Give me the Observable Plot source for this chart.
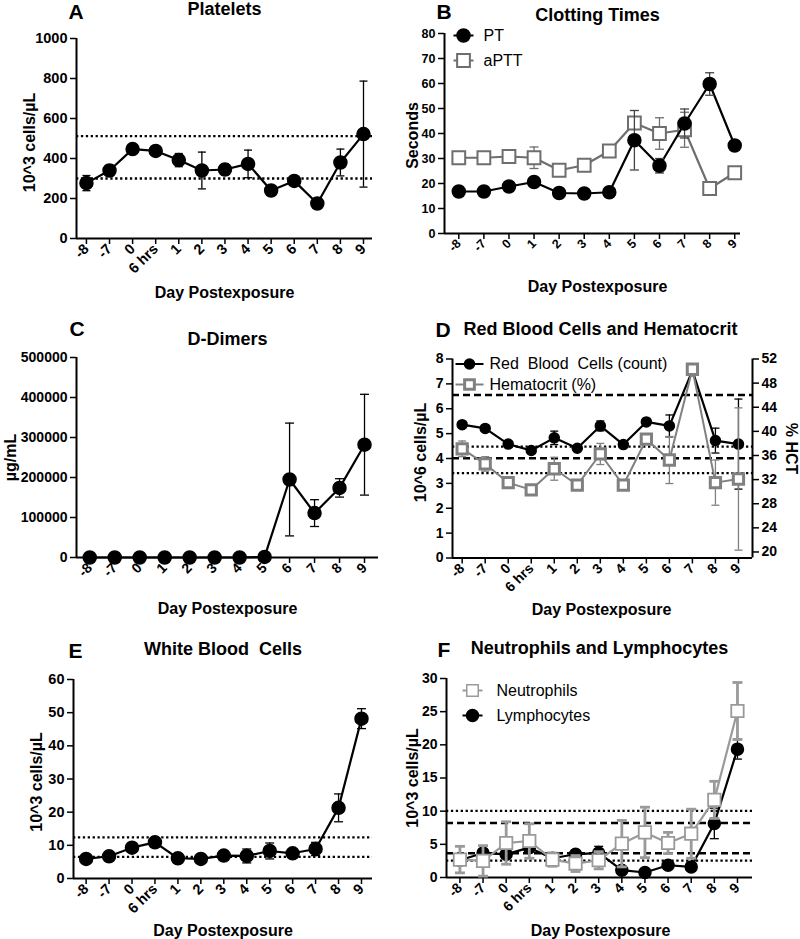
<!DOCTYPE html>
<html><head><meta charset="utf-8">
<script src="https://cdn.jsdelivr.net/npm/d3@7"></script>
<script src="https://cdn.jsdelivr.net/npm/@observablehq/plot@0.6"></script>
<style>
body{margin:0;background:#fff;}
#wrap{position:relative;width:800px;height:939px;overflow:hidden;background:#fff;}
#wrap svg{position:absolute;}
</style></head><body><div id="wrap"></div>
<script>
// ---------- data ----------
const daysHrs = ["-8","-7","0","6 hrs","1","2","3","4","5","6","7","8","9"];
const days = ["-8","-7","0","1","2","3","4","5","6","7","8","9"];

// A Platelets (10^3 cells/µL)
const platelets    = [277, 340, 447, 438, 392, 340, 345, 373, 240, 288, 175, 380, 522];
const plateletsErr = [38, 27, null, null, 33, 92, 27, 69, null, null, null, 67, 265];
const plateletsRef = [512, 300];

// B Clotting times (seconds)
const pt      = [16.8, 16.8, 18.8, 20.6, 16.2, 16.0, 16.5, 37.3, 27.1, 44.0, 59.8, 35.2];
const ptErr   = [null, null, null, null, null, null, null, 11.9, 2.9, 5.8, 4.5, null];
const aptt    = [30.3, 30.3, 30.8, 30.3, 25.3, 27.3, 33.0, 44.2, 40.0, 41.5, 18.0, 24.3];
const apttErr = [null, null, null, 4.3, null, null, null, null, 6.3, 7.0, null, null];

// C D-Dimers (µg/mL)
const ddimer    = [0, 0, 0, 0, 0, 0, 0, 1500, 195000, 111000, 174000, 282000];
const ddimerErr = [null, null, null, null, null, null, null, null, 141000, 33500, 23000, 126000];

// D RBC (10^6 cells/µL) and Hematocrit (%)
const rbc    = [5.36, 5.21, 4.58, 4.32, 4.83, 4.41, 5.31, 4.56, 5.47, 5.31, 7.53, 4.72, 4.58];
const rbcErr = [null, null, null, null, 0.27, null, 0.2, null, null, 0.44, null, 0.5, 1.81];
const hct    = [37.1, 34.6, 31.5, 30.3, 33.8, 31.1, 36.25, 31.1, 38.7, 35.25, 50.3, 31.5, 32.1];
const hctErr = [1.3, 1.2, null, null, 1.9, null, 1.75, null, null, 3.9, null, 3.75, 11.8];
const rbcDashedRef = [6.55, 4.01];
const rbcDottedRef = [4.48, 3.41];
const hctDomain = [19, 52];
const hctTicks = [20, 24, 28, 32, 36, 40, 44, 48, 52];

// E WBC (10^3 cells/µL)
const wbc    = [5.9, 6.7, 9.3, 10.9, 6.1, 5.9, 6.9, 6.8, 8.3, 7.6, 8.9, 21.3, 48.2];
const wbcErr = [null, null, null, 1.3, null, null, null, 2.1, 2.4, null, 2.0, 4.2, 3.0];
const wbcRef = [12.4, 6.55];

// F Neutrophils and Lymphocytes (10^3 cells/µL)
const neut     = [2.7, 2.5, 5.2, 5.5, 2.7, 2.1, 2.6, 5.1, 6.8, 5.2, 6.6, 11.7, 25.1];
const neutErr  = [2.0, 2.3, 3.2, 2.6, 1.0, 1.2, 1.3, 3.5, 3.8, 1.6, 3.7, 2.8, 4.3];
const lymph    = [2.6, 3.7, 3.5, 4.5, 2.9, 3.5, 3.7, 1.1, 0.75, 1.85, 1.6, 8.15, 19.35];
const lymphErr = [null, 1.0, null, null, null, null, 1.0, null, null, null, null, 2.3, 1.5];
const nlDottedRef = [10.05, 2.55];
const nlDashedRef = [8.2, 3.65];

// ---------- helpers ----------
const FONT = "'Liberation Sans', Arial, Helvetica, sans-serif";
const wrap = document.getElementById("wrap");
const hline = {draw(ctx, size){ const w = Math.sqrt(size / Math.PI); ctx.moveTo(-w, 0); ctx.lineTo(w, 0); }};

function rows(vals, errs, f = v => v, g = e => e) {
  return vals.map((v, i) => ({i, v: f(v), e: errs && errs[i] != null ? g(errs[i]) : null}));
}

function series(data, o) {
  const {color = "#000", lineWidth = 2.2, symbol = "circle", r = 6.5, fill = "#000",
         symStroke = 1.5, errColor = "#000", errWidth = 1.3, capR = 4} = o;
  const we = data.filter(d => d.e != null);
  return [
    Plot.line(data, {x: "i", y: "v", stroke: color, strokeWidth: lineWidth}),
    Plot.ruleX(we, {x: "i", y1: d => d.v - d.e, y2: d => d.v + d.e, stroke: errColor, strokeWidth: errWidth}),
    Plot.dot(we, {x: "i", y: d => d.v + d.e, symbol: hline, r: capR, stroke: errColor, strokeWidth: errWidth}),
    Plot.dot(we, {x: "i", y: d => d.v - d.e, symbol: hline, r: capR, stroke: errColor, strokeWidth: errWidth}),
    Plot.dot(data, {x: "i", y: "v", symbol, r, fill, stroke: color, strokeWidth: symStroke})
  ];
}

function refLines(vals, kind) {
  return Plot.ruleY(vals, {stroke: "#000",
    strokeWidth: kind === "dash" ? 2.5 : 2.3,
    strokeDasharray: kind === "dash" ? "7,4" : "2.3,2.6"});
}

function legendItem(o) {
  const {dx, dy, label, symbol, r, fill, stroke, symStroke = 1.5, lineR = 10, textDx} = o;
  return [
    Plot.dot([0], {frameAnchor: "top-left", dx, dy, symbol: hline, r: lineR, stroke, strokeWidth: 2}),
    Plot.dot([0], {frameAnchor: "top-left", dx, dy, symbol, r, fill, stroke, strokeWidth: symStroke}),
    Plot.text([label], {text: d => d, frameAnchor: "top-left", dx: textDx, dy, textAnchor: "start",
      lineAnchor: "middle", fontSize: 16, fontWeight: "normal"})
  ];
}

function panel(c) {
  const n = c.cats.length;
  const [mt, mr, mb, ml] = c.margin;
  const xTicks = d3.range(n);
  const marks = [
    ...(c.refs || []),
    Plot.ruleX([-c.pad[0]], {stroke: "#000", strokeWidth: 2}),
    Plot.ruleY([c.yDomain[0]], {stroke: "#000", strokeWidth: 2}),
    Plot.axisX(xTicks, {tickFormat: i => c.cats[i], tickRotate: -45, tickSize: 6, tickPadding: 2,
      strokeWidth: 1.5, label: null}),
    Plot.axisY(c.yTicks, {tickFormat: c.yFormat || (d => String(d)), tickSize: 6, tickPadding: 3,
      strokeWidth: 1.5, label: null}),
    ...(c.extra || []),
    ...c.marks,
    Plot.text([c.title], {text: d => d, frameAnchor: "top", dx: c.titleDx || 0, dy: c.titleDy,
      textAnchor: "middle", lineAnchor: "middle", fontSize: 18, fontWeight: "bold"}),
    Plot.text([c.letter], {text: d => d, frameAnchor: "top-left", dx: c.letterDx, dy: c.letterDy,
      textAnchor: "start", lineAnchor: "middle", fontSize: 21, fontWeight: "bold"}),
    Plot.text([c.ylabel], {text: d => d, frameAnchor: "left", dx: c.ylabelDx, dy: c.ylabelDy || 0,
      textAnchor: "middle", lineAnchor: "middle", rotate: -90, fontSize: 16, fontWeight: "bold"}),
    Plot.text(["Day Postexposure"], {text: d => d, frameAnchor: "bottom", dx: c.xlabelDx || 0,
      dy: c.xlabelDy, textAnchor: "middle", lineAnchor: "middle", fontSize: 16, fontWeight: "bold"})
  ];
  const p = Plot.plot({
    width: 400, height: c.height,
    marginTop: mt, marginRight: mr, marginBottom: mb, marginLeft: ml,
    style: {fontFamily: FONT, fontSize: (c.tickFont || 14.5) + "px", fontWeight: "bold", color: "#000",
      background: "transparent", overflow: "visible"},
    x: {type: "linear", domain: [-c.pad[0], n - 1 + c.pad[1]]},
    y: {domain: c.yDomain},
    marks
  });
  p.style.left = c.left + "px";
  p.style.top = c.top + "px";
  wrap.appendChild(p);
}

// ---------- A ----------
panel({
  left: 0, top: 0, height: 300, margin: [38, 28, 62, 76], cats: daysHrs, pad: [0.43, 0.39],
  yDomain: [0, 1000], yTicks: d3.range(0, 1001, 200),
  refs: [refLines(plateletsRef, "dot")],
  marks: series(rows(platelets, plateletsErr), {r: 6.5, capR: 4}),
  title: "Platelets", titleDy: -29, letter: "A", letterDx: -8, letterDy: -26.5,
  ylabel: "10^3 cells/µL", ylabelDx: -47, ylabelDy: 4, xlabelDy: 54
});

// ---------- B ----------
panel({
  left: 400, top: 0, height: 300, margin: [33, 60, 67, 44], cats: days, pad: [0.57, 0.23],
  yDomain: [0, 80], yTicks: d3.range(0, 81, 10), tickFont: 12.5,
  marks: [
    ...series(rows(aptt, apttErr), {color: "#6e6e6e", symbol: "square", r: 7.2, fill: "#fff",
      symStroke: 2, errColor: "#6e6e6e", capR: 4.5}),
    ...series(rows(pt, ptErr), {r: 6.5, errColor: "#444", capR: 4.5})
  ],
  extra: [
    ...legendItem({dx: 19, dy: 2, label: "PT", symbol: "circle", r: 6.5, fill: "#000", stroke: "#000",
      lineR: 10, textDx: 39}),
    ...legendItem({dx: 19, dy: 27, label: "aPTT", symbol: "square", r: 7.2, fill: "#fff", stroke: "#6e6e6e",
      symStroke: 2, lineR: 10, textDx: 39})
  ],
  title: "Clotting Times", titleDx: 5, titleDy: -18, letter: "B", letterDx: -8, letterDy: -21.5,
  ylabel: "Seconds", ylabelDx: -32, ylabelDy: 2, xlabelDy: 53, xlabelDx: 5
});

// ---------- C ----------
panel({
  left: 0, top: 300, height: 320, margin: [57, 22, 63, 76], cats: days, pad: [0.53, 0.56],
  yDomain: [0, 500000], yTicks: d3.range(0, 500001, 100000), tickFont: 14,
  marks: series(rows(ddimer, ddimerErr), {r: 6.5, capR: 4.5}),
  title: "D-Dimers", titleDy: -18, letter: "C", letterDx: -7, letterDy: -28,
  ylabel: "µg/mL", ylabelDx: -66, ylabelDy: 0, xlabelDy: 51
});

// ---------- D ----------
const toLeft = h => (h - hctDomain[0]) * 8 / (hctDomain[1] - hctDomain[0]);
const fromLeft = v => hctDomain[0] + v * (hctDomain[1] - hctDomain[0]) / 8;
panel({
  left: 400, top: 300, height: 320, margin: [58.5, 48, 62.5, 52], cats: daysHrs, pad: [0.42, 0.61],
  yDomain: [0, 8], yTicks: d3.range(0, 9, 1), tickFont: 14,
  refs: [refLines(rbcDashedRef, "dash"), refLines(rbcDottedRef, "dot")],
  extra: [
    Plot.ruleX([daysHrs.length - 1 + 0.61], {stroke: "#000", strokeWidth: 2}),
    Plot.axisY(hctTicks.map(toLeft), {anchor: "right", tickFormat: v => String(Math.round(fromLeft(v))),
      tickSize: 6, tickPadding: 3, strokeWidth: 1.5, label: null}),
    Plot.text(["% HCT"], {text: d => d, frameAnchor: "right", dx: 39, dy: -10, rotate: 90,
      textAnchor: "middle", lineAnchor: "middle", fontSize: 16, fontWeight: "bold"}),
    ...legendItem({dx: 17, dy: 5, label: "Red\u00a0 Blood\u00a0 Cells (count)", symbol: "circle", r: 5,
      fill: "#000", stroke: "#000", lineR: 14, textDx: 37}),
    ...legendItem({dx: 17, dy: 25.5, label: "Hematocrit (%)", symbol: "square", r: 5.5,
      fill: "#fff", stroke: "#808080", symStroke: 3, lineR: 14, textDx: 37})
  ],
  marks: [
    ...series(rows(rbc, rbcErr), {r: 5, capR: 4}),
    ...series(rows(hct, hctErr, toLeft, e => e * 8 / (hctDomain[1] - hctDomain[0])),
      {color: "#808080", symbol: "square", r: 5.8, fill: "#fff", symStroke: 3, lineWidth: 2,
       errColor: "#808080", capR: 4})
  ],
  title: "Red Blood Cells and Hematocrit", titleDx: -2, titleDy: -30, letter: "D", letterDx: -17, letterDy: -28.5,
  ylabel: "10^6 cells/µL", ylabelDx: -32, ylabelDy: -6, xlabelDy: 51.5, xlabelDx: -1
});

// ---------- E ----------
panel({
  left: 0, top: 620, height: 319, margin: [59, 28, 61, 73], cats: daysHrs, pad: [0.55, 0.48],
  yDomain: [0, 60], yTicks: d3.range(0, 61, 10),
  refs: [refLines(wbcRef, "dot")],
  marks: series(rows(wbc, wbcErr), {r: 6.5, capR: 4.5}),
  title: "White Blood\u00a0 Cells", titleDy: -30, letter: "E", letterDx: -5, letterDy: -28,
  ylabel: "10^3 cells/µL", ylabelDx: -37, ylabelDy: 3, xlabelDy: 52
});

// ---------- F ----------
panel({
  left: 400, top: 620, height: 319, margin: [58, 48, 62, 46], cats: daysHrs, pad: [0.58, 0.65],
  yDomain: [0, 30], yTicks: d3.range(0, 31, 5), tickFont: 14,
  refs: [refLines(nlDottedRef, "dot"), refLines(nlDashedRef, "dash")],
  extra: [
    ...legendItem({dx: 26, dy: 12, label: "Neutrophils", symbol: "square", r: 6.5,
      fill: "#fff", stroke: "#9a9a9a", symStroke: 1.5, lineR: 10, textDx: 50}),
    ...legendItem({dx: 26, dy: 37, label: "Lymphocytes", symbol: "circle", r: 6,
      fill: "#000", stroke: "#000", lineR: 10, textDx: 50})
  ],
  marks: [
    ...series(rows(lymph, lymphErr), {r: 6, capR: 4.5}),
    ...series(rows(neut, neutErr), {color: "#9a9a9a", symbol: "square", r: 7, fill: "#fff",
      symStroke: 1.8, errColor: "#9a9a9a", errWidth: 2.8, capR: 5})
  ],
  title: "Neutrophils and Lymphocytes", titleDy: -30, letter: "F", letterDx: -9, letterDy: -28,
  ylabel: "10^3 cells/µL", ylabelDx: -34, ylabelDy: 0, xlabelDy: 53, xlabelDx: 1
});
</script></body></html>
